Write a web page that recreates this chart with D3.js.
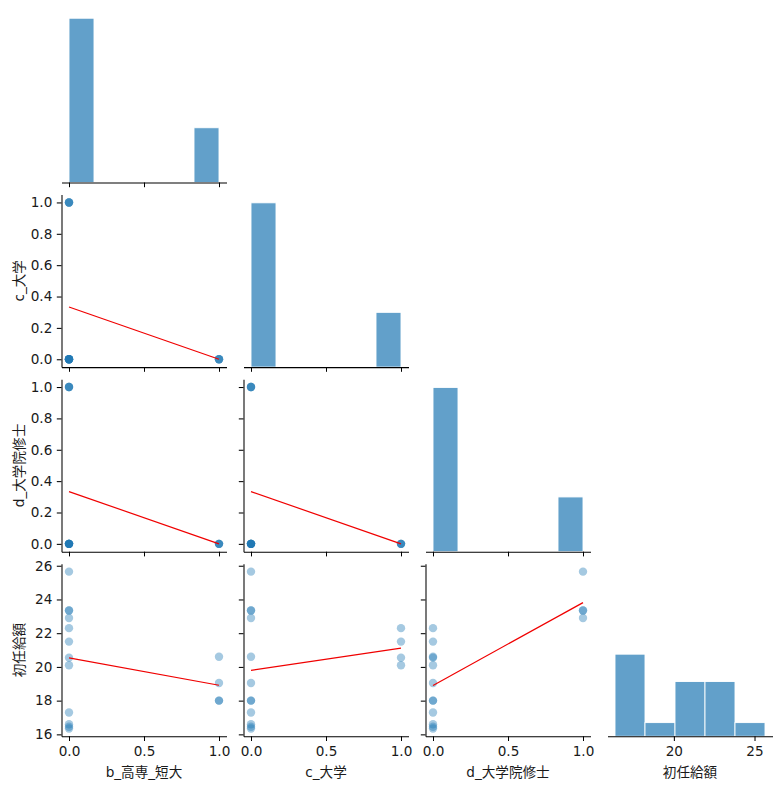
<!DOCTYPE html>
<html>
<head>
<meta charset="utf-8">
<script src="https://cdn.jsdelivr.net/npm/d3@7"></script>
<style>
    body { margin: 0; background: #fff; }
    svg text { font-family: 'DejaVu Sans', 'Noto Sans CJK JP', sans-serif; }
</style>
</head>
<body>
<svg id="chart"></svg>
<script>
// Variables of the pair grid (corner layout)
const varNames = ['b_高専_短大', 'c_大学', 'd_大学院修士', '初任給額'];

// One value per row (16 rows, four education groups of four)
const bKosenTandai = [0, 0, 0, 0, 1, 1, 1, 1, 0, 0, 0, 0, 0, 0, 0, 0];
const cDaigaku = [0, 0, 0, 0, 0, 0, 0, 0, 1, 1, 1, 1, 0, 0, 0, 0];
const dDaigakuinShushi = [0, 0, 0, 0, 0, 0, 0, 0, 0, 0, 0, 0, 1, 1, 1, 1];
const shoninkyu = [17.3, 16.6, 16.45, 16.35, 20.6, 19.05, 18.0, 18.0,
    22.3, 21.5, 20.55, 20.1, 25.65, 23.35, 23.35, 22.9];

// Tick labels
const binaryXTicks = [0, 0.5, 1];
const binaryYTicks = [0, 0.2, 0.4, 0.6, 0.8, 1];
const salaryYTicks = [16, 18, 20, 22, 24, 26];
const salaryXTicks = [20, 25];
const histBinCounts = [6, 6, 6, 5];

const columns = [bKosenTandai, cDaigaku, dDaigakuinShushi, shoninkyu];
const xTicksByVar = [binaryXTicks, binaryXTicks, binaryXTicks, salaryXTicks];
const yTicksByVar = [binaryYTicks, binaryYTicks, binaryYTicks, salaryYTicks];

const colors = {
    point: '#1f77b4',
    bar: '#1f77b4',
    reg: '#f00000',
    axis: '#000',
    text: '#1a1a1a',
};

const width = 781;
const height = 790;
const panel = { left: 61.5, top: 10, w: 165, h: 172.5, stepX: 182, stepY: 184.6 };
const tickLen = 4.7;
const fontSize = 13.6;

const svg = d3.select('#chart')
    .attr('width', width)
    .attr('height', height)
    .attr('viewBox', [0, 0, width, height]);

// Matplotlib style 5% margins around the data range
const domains = columns.map((vals) => {
    const [lo, hi] = d3.extent(vals);
    const pad = (hi - lo) * 0.05;
    return [lo - pad, hi + pad];
});

// Diagonal histograms share one count axis
const histograms = columns.map((vals, k) => {
    const [lo, hi] = d3.extent(vals);
    const n = histBinCounts[k];
    const step = (hi - lo) / n;
    return d3.bin()
        .domain([lo, hi])
        .thresholds(d3.range(1, n).map((i) => lo + i * step))(vals);
});
const maxCount = d3.max(histograms, (bins) => d3.max(bins, (b) => b.length));

function linearFit(xs, ys) {
    const mx = d3.mean(xs);
    const my = d3.mean(ys);
    let sxy = 0, sxx = 0;
    xs.forEach((x, i) => {
        sxy += (x - mx) * (ys[i] - my);
        sxx += (x - mx) * (x - mx);
    });
    const slope = sxy / sxx;
    return (x) => my + slope * (x - mx);
}

const fmt = (k) => (k === 3 ? d3.format('d') : d3.format('.1f'));

function styleAxis(g) {
    g.attr('font-family', null).attr('font-size', fontSize);
    g.select('.domain').attr('stroke', colors.axis).attr('stroke-width', 1.05);
    g.selectAll('.tick line').attr('stroke', colors.axis).attr('stroke-width', 1.05);
    g.selectAll('.tick text').attr('fill', colors.text);
}

for (let row = 0; row < 4; row++) {
    for (let col = 0; col <= row; col++) {
        const x0 = panel.left + col * panel.stepX;
        const y0 = panel.top + row * panel.stepY;
        const g = svg.append('g').attr('transform', `translate(${x0},${y0})`);

        const x = d3.scaleLinear().domain(domains[col]).range([0, panel.w]);
        const isBottom = row === 3;

        if (row === col) {
            // Histogram on the diagonal
            const y = d3.scaleLinear().domain([0, maxCount * 1.05]).range([panel.h, 0]);
            g.append('g')
                .selectAll('rect')
                .data(histograms[col])
                .join('rect')
                .attr('x', (d) => x(d.x0))
                .attr('width', (d) => x(d.x1) - x(d.x0))
                .attr('y', (d) => y(d.length))
                .attr('height', (d) => y(0) - y(d.length))
                .attr('fill', colors.bar)
                .attr('fill-opacity', 0.7)
                .attr('stroke', '#fff')
                .attr('stroke-width', 0.9);
        } else {
            const y = d3.scaleLinear().domain(domains[row]).range([panel.h, 0]);
            const xs = columns[col];
            const ys = columns[row];
            const pts = xs.map((v, i) => ({ x: v, y: ys[i] }));

            g.append('g')
                .selectAll('circle')
                .data(pts)
                .join('circle')
                .attr('cx', (d) => x(d.x))
                .attr('cy', (d) => y(d.y))
                .attr('r', 4.2)
                .attr('fill', colors.point)
                .attr('fill-opacity', 0.4);

            // Regression line over the data range
            const fit = linearFit(xs, ys);
            const [xmin, xmax] = d3.extent(xs);
            g.append('line')
                .attr('x1', x(xmin))
                .attr('y1', y(fit(xmin)))
                .attr('x2', x(xmax))
                .attr('y2', y(fit(xmax)))
                .attr('stroke', colors.reg)
                .attr('stroke-width', 1.2);

            const yAxis = d3.axisLeft(y)
                .tickValues(yTicksByVar[row])
                .tickSize(tickLen)
                .tickSizeOuter(0)
                .tickPadding(4.5)
                .tickFormat(col === 0 ? fmt(row) : '');
            g.append('g').call(yAxis).call(styleAxis);

            if (col === 0) {
                g.append('text')
                    .attr('transform', `translate(${19 - x0},${panel.h / 2}) rotate(-90)`)
                    .attr('text-anchor', 'middle')
                    .attr('dominant-baseline', 'central')
                    .attr('font-size', fontSize)
                    .attr('fill', colors.text)
                    .text(varNames[row]);
            }
        }

        const xAxis = d3.axisBottom(x)
            .tickValues(xTicksByVar[col])
            .tickSize(tickLen)
            .tickSizeOuter(0)
            .tickPadding(5)
            .tickFormat(isBottom ? fmt(col) : '');
        g.append('g')
            .attr('transform', `translate(0,${panel.h})`)
            .call(xAxis)
            .call(styleAxis);

        if (isBottom) {
            g.append('text')
                .attr('x', panel.w / 2)
                .attr('y', panel.h + 36)
                .attr('text-anchor', 'middle')
                .attr('dominant-baseline', 'central')
                .attr('font-size', fontSize)
                .attr('fill', colors.text)
                .text(varNames[col]);
        }
    }
}
</script>
</body>
</html>
